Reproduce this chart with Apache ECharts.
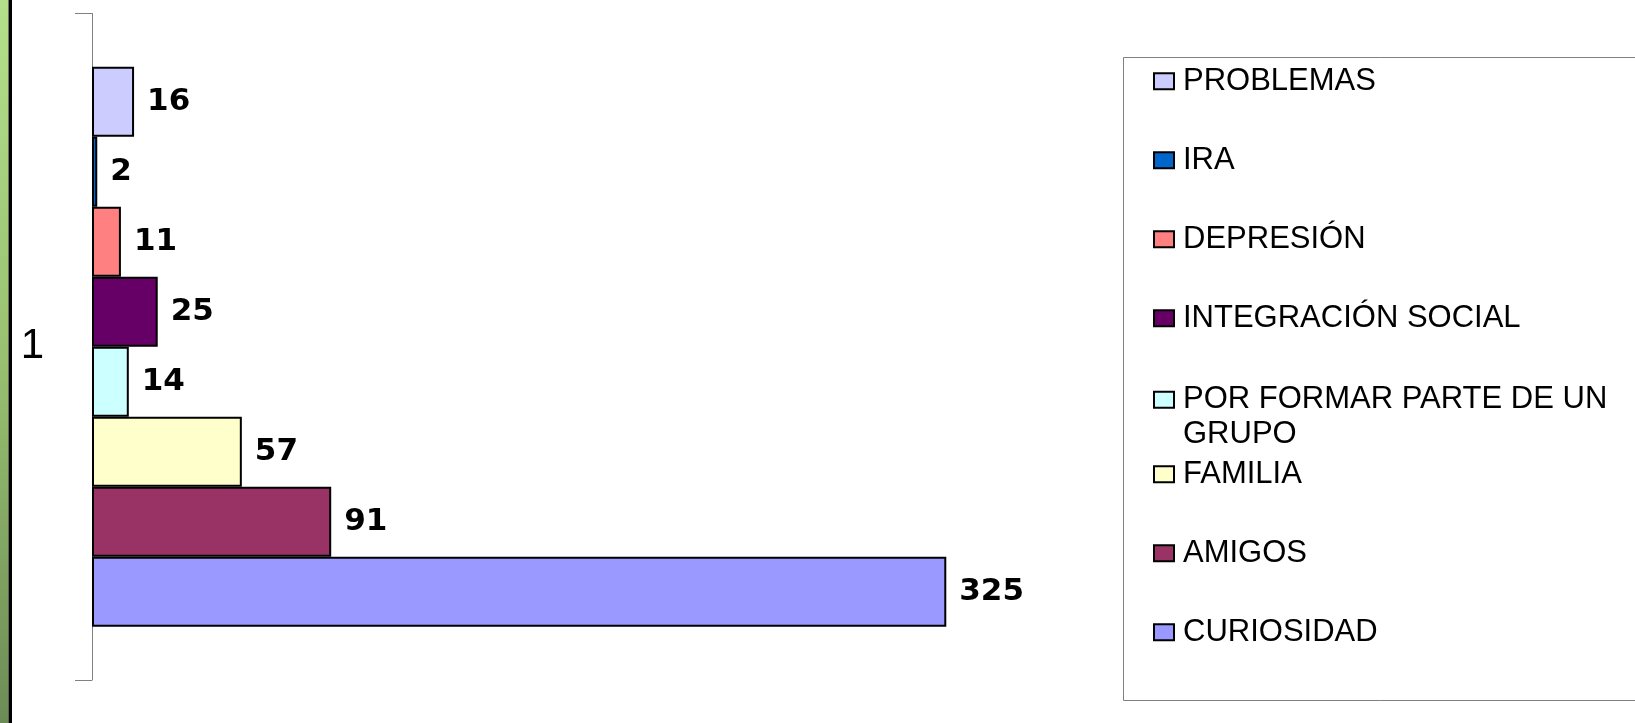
<!DOCTYPE html>
<html style="height: 100%">
<head>
<meta charset="utf-8">
</head>
<body style="height: 100%; margin: 0">
<div id="container" style="width: 1635px; height: 723px"></div>
<script src="https://cdn.jsdelivr.net/npm/echarts@6/dist/echarts.min.js"></script>
<script type="text/javascript">
// motivos (orden de la leyenda, de arriba abajo)
var categories = ['PROBLEMAS', 'IRA', 'DEPRESIÓN', 'INTEGRACIÓN SOCIAL',
    'POR FORMAR PARTE DE UN GRUPO', 'FAMILIA', 'AMIGOS', 'CURIOSIDAD'];
var values = [16, 2, 11, 25, 14, 57, 91, 325];
var yLabels = ['1'];
var palette = ['#CCCCFF', '#0066CC', '#FF8080', '#660066', '#CCFFFF', '#FFFFCC', '#993366', '#9999FF'];

var font = 'Liberation Sans, Arial, sans-serif';
var longName = 'POR FORMAR PARTE DE UN GRUPO';
var dom = document.getElementById('container');
var myChart = echarts.init(dom);

var series = categories.map(function (name, i) {
    return {
        name: name,
        type: 'bar',
        data: [values[i]],
        barGap: '0%',
        barCategoryGap: '16%',
        itemStyle: { color: palette[i], borderColor: '#000', borderWidth: 2 },
        label: {
            show: true,
            position: 'right',
            distance: 13,
            color: '#000',
            fontFamily: 'DejaVu Sans',
            fontWeight: 'bold',
            fontSize: 31
        }
    };
});

var legendBase = {
    orient: 'vertical',
    left: 1148,
    itemGap: 44.5,
    itemWidth: 20,
    itemHeight: 16,
    icon: 'rect',
    selectedMode: false,
    itemStyle: { borderColor: '#000', borderWidth: 2 },
    textStyle: {
        color: '#000', fontFamily: font, fontSize: 31, lineHeight: 34.5, padding: [0, 0, 0, 4],
        rich: {
            p: { color: '#000', fontFamily: font, fontSize: 31, lineHeight: 34.5 }
        }
    },
    formatter: function (n) {
        return n === longName ? '{p|POR FORMAR PARTE DE UN}\n{p|GRUPO}' : n;
    }
};

var option = {
    animation: false,
    backgroundColor: '#fff',
    graphic: [
        {
            type: 'rect', silent: true,
            shape: { x: 0, y: 0, width: 8.5, height: 723 },
            style: {
                fill: new echarts.graphic.LinearGradient(0, 0, 0, 1, [
                    { offset: 0, color: '#b4e08b' },
                    { offset: 0.5, color: '#98c070' },
                    { offset: 1, color: '#6c8c56' }
                ])
            }
        },
        { type: 'rect', silent: true, shape: { x: 8.5, y: 0, width: 3.5, height: 723 }, style: { fill: '#000' } },
        {
            type: 'rect', silent: true,
            shape: { x: 1123.5, y: 57.5, width: 600, height: 643 },
            style: { fill: 'none', stroke: '#808080', lineWidth: 1 }
        }
    ],
    grid: { left: 92, top: 13.5, width: 920, height: 666.5 },
    xAxis: {
        type: 'value',
        min: 0,
        max: 350,
        show: false
    },
    yAxis: {
        type: 'category',
        data: yLabels,
        axisLine: { show: true, lineStyle: { color: '#808080', width: 1 } },
        axisTick: { show: true, length: 17, lineStyle: { color: '#808080' } },
        axisLabel: { margin: 48, color: '#000', fontFamily: font, fontSize: 42 },
        splitLine: { show: false }
    },
    legend: [
        Object.assign({}, legendBase, { top: 59, data: categories.slice(0, 4) }),
        // two-line item: icon lines up with the first line
        Object.assign({}, legendBase, {
            top: 343,
            data: [{ name: longName, textStyle: { padding: [34.5, 0, 0, 4] } }]
        }),
        Object.assign({}, legendBase, { top: 452, data: categories.slice(5) })
    ],
    series: series
};

myChart.setOption(option);
</script>
</body>
</html>
